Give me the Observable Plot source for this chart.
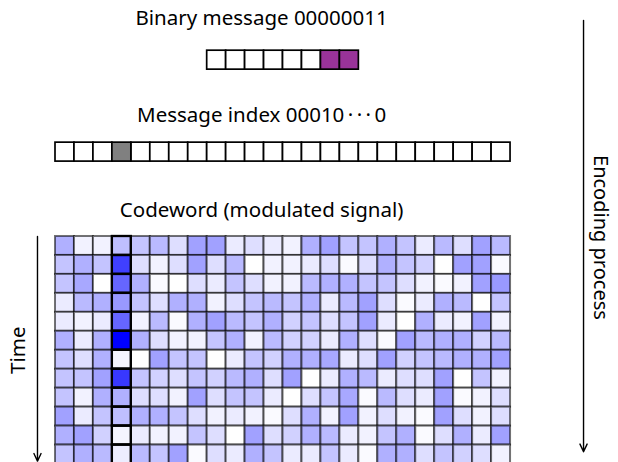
<!DOCTYPE html>
<html><head><meta charset="utf-8">
<script src="https://cdn.jsdelivr.net/npm/d3@7"></script>
<script src="https://cdn.jsdelivr.net/npm/@observablehq/plot@0.6"></script>
<style>body{margin:0;background:#fff}</style>
</head><body><div id="chart"></div>
<script>
// ---- data ----
const messageLabel = "Binary message 00000011";
const indexLabel = "Message index 00010\u2009\u00B7\u2009\u00B7\u2009\u00B7\u20090";
const codewordLabel = "Codeword (modulated signal)";
const timeLabel = "Time";
const processLabel = "Encoding process";
const messageBits = [0,0,0,0,0,0,1,1];
const indexBits = [0,0,0,1,0,0,0,0,0,0,0,0,0,0,0,0,0,0,0,0,0,0,0,0];
const activeColumn = 3;
const row0  = [0.31,0.05,0.05,0.25,0.23,0.27,0.13,0.37,0.37,0.08,0.13,0.08,0.05,0.31,0.37,0.23,0.23,0.31,0.23,0.08,0.27,0.13,0.37,0.27];
const row1  = [0.23,0.31,0.23,0.75,0.13,0.05,0.13,0.37,0.13,0.27,0.00,0.05,0.05,0.08,0.13,0.02,0.13,0.31,0.23,0.18,0.00,0.37,0.37,0.02];
const row2  = [0.23,0.34,0.00,0.60,0.31,0.02,0.00,0.13,0.08,0.23,0.13,0.05,0.05,0.27,0.31,0.31,0.23,0.23,0.13,0.05,0.02,0.05,0.37,0.40];
const row3  = [0.08,0.27,0.31,0.40,0.23,0.13,0.31,0.31,0.05,0.13,0.23,0.27,0.23,0.31,0.08,0.27,0.37,0.13,0.02,0.08,0.31,0.27,0.00,0.23];
const row4  = [0.08,0.05,0.08,0.60,0.05,0.27,0.02,0.31,0.37,0.27,0.23,0.31,0.18,0.23,0.13,0.23,0.37,0.08,0.00,0.31,0.08,0.05,0.37,0.05];
const row5  = [0.31,0.08,0.31,1.00,0.31,0.13,0.05,0.05,0.23,0.31,0.05,0.27,0.18,0.18,0.08,0.31,0.13,0.02,0.37,0.27,0.31,0.31,0.18,0.27];
const row6  = [0.23,0.13,0.31,0.04,0.00,0.37,0.23,0.23,0.00,0.08,0.23,0.18,0.31,0.31,0.34,0.08,0.13,0.37,0.18,0.23,0.27,0.31,0.31,0.37];
const row7  = [0.23,0.23,0.37,0.78,0.23,0.18,0.13,0.23,0.18,0.27,0.31,0.13,0.37,0.00,0.08,0.31,0.27,0.08,0.13,0.13,0.37,0.00,0.23,0.05];
const row8  = [0.23,0.05,0.31,0.31,0.13,0.13,0.05,0.37,0.13,0.23,0.23,0.08,0.00,0.13,0.23,0.34,0.02,0.27,0.13,0.08,0.37,0.02,0.05,0.13];
const row9  = [0.37,0.08,0.23,0.25,0.31,0.31,0.23,0.13,0.05,0.08,0.05,0.02,0.13,0.31,0.05,0.37,0.05,0.13,0.05,0.02,0.37,0.13,0.05,0.13];
const row10 = [0.31,0.37,0.18,0.04,0.08,0.05,0.05,0.23,0.13,0.00,0.37,0.13,0.18,0.31,0.27,0.08,0.05,0.23,0.31,0.02,0.13,0.31,0.08,0.37];
const row11 = [0.23,0.31,0.27,0.07,0.27,0.23,0.37,0.02,0.13,0.08,0.31,0.23,0.08,0.08,0.23,0.08,0.02,0.31,0.31,0.13,0.23,0.18,0.13,0.05];
const codeword = [row0,row1,row2,row3,row4,row5,row6,row7,row8,row9,row10,row11];

// ---- derived tables ----
const nCols = indexBits.length;
const cells = [];
codeword.forEach((row, r) => row.forEach((v, c) => cells.push({r, c, v})));
const active = cells.filter(d => d.c === activeColumn);
const msgOffset = (nCols - messageBits.length) / 2;
const msg = messageBits.map((b, i) => ({c: i + msgOffset, b}));
const idx = indexBits.map((b, i) => ({c: i, b}));

// layout (in cell units)
const msgRow = -9.8, idxRow = -4.95;
const font = "Noto Sans";
const fs = 20.5;
const textX = 10.87;

const chart = Plot.plot({
  width: 618, height: 462, margin: 0,
  style: {fontFamily: font, background: "white"},
  x: {domain: [-2.9008, 29.694], range: [0, 618], axis: null},
  y: {domain: [-12.447, 11.92], range: [0, 462], axis: null},
  color: {type: "linear", domain: [0, 1], range: ["#ffffff", "#0000ff"], interpolate: "rgb"},
  marks: [
    // titles
    Plot.text([messageLabel], {x: textX, y: -11.5, text: d => d, fontSize: fs, fill: "black"}),
    Plot.text([indexLabel], {x: textX, y: -6.4, text: d => d, fontSize: fs, fill: "black"}),
    Plot.text([codewordLabel], {x: textX, y: -1.4, text: d => d, fontSize: fs, fill: "black"}),
    // binary message
    Plot.rect(msg.filter(d => !d.b), {x1: "c", x2: d => d.c + 1, y1: msgRow, y2: msgRow + 1, fill: "white", stroke: "black", strokeWidth: 1.7}),
    Plot.rect(msg.filter(d => d.b), {x1: "c", x2: d => d.c + 1, y1: msgRow, y2: msgRow + 1, fill: "#993399", stroke: "black", strokeWidth: 1.7}),
    // message index
    Plot.rect(idx.filter(d => !d.b), {x1: "c", x2: d => d.c + 1, y1: idxRow, y2: idxRow + 1, fill: "white", stroke: "black", strokeWidth: 1.7}),
    Plot.rect(idx.filter(d => d.b), {x1: "c", x2: d => d.c + 1, y1: idxRow, y2: idxRow + 1, fill: "#808080", stroke: "black", strokeWidth: 1.7}),
    // codeword grid
    Plot.rect(cells, {x1: "c", x2: d => d.c + 1, y1: "r", y2: d => d.r + 1, fill: "v", stroke: "black", strokeOpacity: 0.55, strokeWidth: 2}),
    Plot.rect(active, {x1: "c", x2: d => d.c + 1, y1: "r", y2: d => d.r + 1, fill: "none", stroke: "black", strokeWidth: 2.3}),
    // time arrow
    Plot.arrow([0], {x1: -0.95, y1: 0, x2: -0.95, y2: 11.85, stroke: "black", strokeWidth: 1.4, headLength: 9, headAngle: 50}),
    Plot.text([timeLabel], {x: -1.95, y: 6.0, text: d => d, rotate: -90, fontSize: fs, fill: "black"}),
    // encoding arrow
    Plot.arrow([0], {x1: 27.85, y1: -11.4, x2: 27.85, y2: 11.35, stroke: "black", strokeWidth: 1.4, headLength: 9, headAngle: 50}),
    Plot.text([processLabel], {x: 28.75, y: 0.05, text: d => d, rotate: 90, fontSize: 20, fill: "black"})
  ]
});
document.getElementById("chart").appendChild(chart);
</script>
</body></html>
